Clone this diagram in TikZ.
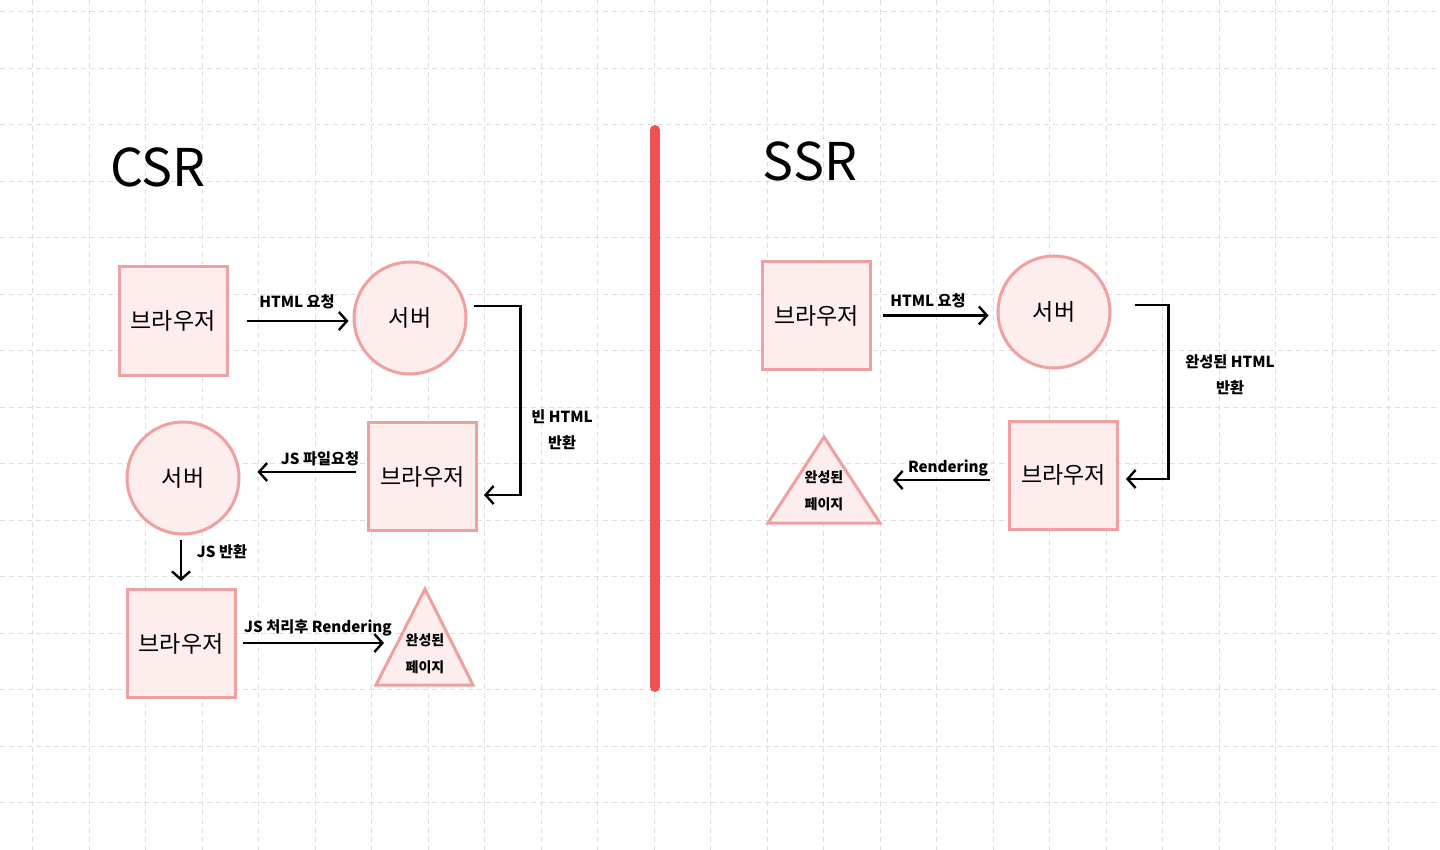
\documentclass[tikz,border=0pt]{standalone}
\usepackage{fontspec}
\setmainfont{Noto Sans CJK KR}
\usetikzlibrary{arrows.meta}
\definecolor{boxline}{RGB}{240,160,160}
\definecolor{boxfill}{RGB}{253,237,237}
\definecolor{divider}{RGB}{236,84,84}
\definecolor{gridc}{RGB}{222,222,222}
\begin{document}
\begin{tikzpicture}[x=0.5pt,y=-0.5pt,
  box/.style={draw=boxline, fill=boxfill, line width=1.5pt, minimum width=54pt, minimum height=54pt, inner sep=0pt, font=\fontsize{11.5}{14}\selectfont},
  srv/.style={circle, draw=boxline, fill=boxfill, line width=1.5pt, minimum size=56pt, inner sep=0pt, font=\fontsize{11.5}{14}\selectfont},
  tri/.style={draw=boxline, fill=boxfill, line width=1.5pt, line join=miter},
  tritext/.style={align=center, font=\bfseries\fontsize{7}{13.5}\selectfont, inner sep=0pt},
  conn/.style={line width=1.2pt, -{Straight Barb[length=4pt,width=9pt]}},
  lbl/.style={font=\bfseries\fontsize{7.6}{13}\selectfont, inner sep=0pt, align=center},
  ttl/.style={font=\fontsize{26}{30}\selectfont, inner sep=0pt},
  gridline/.style={gridc, line width=0.5pt, dash pattern=on 2.5pt off 2pt}
]
\useasboundingbox (0,0) rectangle (1440,850);
\fill[white] (0,0) rectangle (1440,850);
% grid
\foreach \k in {0,...,24} \draw[gridline] ({32.7+56.5*\k},0) -- ({32.7+56.5*\k},850);
\foreach \k in {0,...,14} \draw[gridline] (0,{11.7+56.5*\k}) -- (1440,{11.7+56.5*\k});

% divider
\draw[divider, line width=5pt, line cap=round] (655,130) -- (655,687);

% titles
\node[ttl] (csr) at (158,167) {CSR};
\node[ttl] (ssr) at (810,161) {SSR};

% ---------- CSR ----------
\node[box] (b1) at (173,321) {브라우저};
\node[srv] (s1) at (410,318) {서버};
\node[box] (b2) at (422.5,476.5) {브라우저};
\node[srv] (s2) at (183,478) {서버};
\node[box] (b3) at (181,643.5) {브라우저};
\coordinate (t1a) at (425,589);
\coordinate (t1b) at (376,685);
\coordinate (t1c) at (473,685);
\draw[tri] (t1a) -- (t1b) -- (t1c) -- cycle;
\node[tritext] (t1) at (425,654) {완성된\\페이지};
\coordinate (t1in) at (384,643);

\draw[conn] ([xshift=9pt]b1.east) -- ([xshift=-2pt]s1.west |- b1.east);
\node[lbl] (l1) at (297,302) {HTML 요청};

\draw[conn] ([shift={(6,-12)}]s1.east) -- ++(47,0) |- ([shift={(6,18.5)}]b2.east);
\node[lbl] (l2) at (562,430) {빈 HTML\\반환};

\draw[conn] ([shift={(-11,-4.5)}]b2.west) -- ([shift={(17,-6)}]s2.east);
\node[lbl] (l3) at (320,459) {JS 파일요청};

\draw[conn] ([shift={(-2,4)}]s2.south) -- ([yshift=3.5pt]b3.north);
\node[lbl] (l4) at (222,552) {JS 반환};

\draw[conn] ([shift={(6,-0.5)}]b3.east) -- (t1in);
\node[lbl] (l5) at (318,628) {JS 처리후 Rendering};

% ---------- SSR ----------
\node[box] (b4) at (816.5,315.5) {브라우저};
\node[srv] (s3) at (1054,312) {서버};
\node[box] (b5) at (1063.5,475) {브라우저};
\coordinate (t2a) at (824,437);
\coordinate (t2b) at (768,523);
\coordinate (t2c) at (880,523);
\draw[tri] (t2a) -- (t2b) -- (t2c) -- cycle;
\node[tritext] (t2) at (824,491) {완성된\\페이지};
\coordinate (t2in) at (893,480);

\draw[conn] ([xshift=5.5pt]b4.east) -- ([xshift=-4pt]s3.west |- b4.east);
\node[lbl] (l6) at (928,301) {HTML 요청};

\draw[conn] ([shift={(23,-7)}]s3.east) -- ++(34,0) |- ([shift={(7,4)}]b5.east);
\node[lbl] (l7) at (1230,375) {완성된 HTML\\반환};

\draw[conn] ([shift={(-18,5)}]b5.west) -- (t2in);
\node[lbl] (l8) at (948,468) {Rendering};
\end{tikzpicture}
\end{document}
